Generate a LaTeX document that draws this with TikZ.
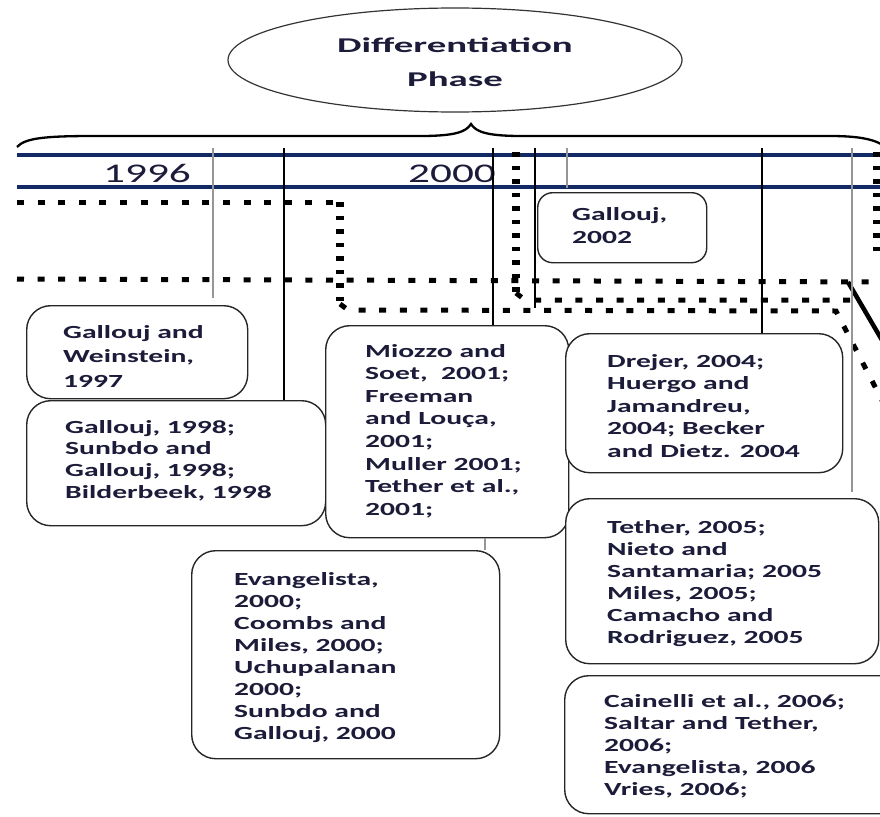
\documentclass[tikz,border=0pt]{standalone}
\usepackage{fontspec}
\setmainfont{Carlito}[FakeStretch=1.6]
\newfontfamily\headfont{Carlito}[FakeStretch=1.85]
\usetikzlibrary{shapes.geometric}
\definecolor{navy}{RGB}{18,42,100}
\definecolor{ink}{RGB}{28,28,58}
\definecolor{tickgray}{RGB}{150,150,150}
\newcommand{\boxfont}[1]{\fontsize{18.5pt}{#1}\selectfont\bfseries}

\begin{document}
\begin{tikzpicture}[x=1pt,y=-1pt,
  refbox/.style={draw=black!85, fill=white, line width=1.4pt, rounded corners=24pt,
                 inner sep=0pt, anchor=north west},
  reftext/.style={anchor=north west, inner sep=0pt, align=left, text=ink},
  tickline/.style={draw=black, line width=1.4pt},
  softtick/.style={draw=tickgray, line width=2pt},
  hdots/.style={line width=5pt, dash pattern=on 7pt off 13.6pt},
  vdots/.style={line width=8pt, dash pattern=on 4.5pt off 9pt},
  band/.style={draw=navy, line width=4.5pt},
  yearlabel/.style={anchor=base, inner sep=0pt, text=ink, font=\fontsize{27pt}{30pt}\selectfont}
]
\useasboundingbox (0,0) rectangle (880,816);
\begin{scope}
\clip (0,0) rectangle (880,816);

% ---------- title ellipse and brace ----------
\node[ellipse, draw=black!80, line width=1.2pt, minimum width=454pt, minimum height=104pt,
      inner sep=0pt] (phase) at (455,60) {};
\node[anchor=north, inner sep=0pt, align=center, text=ink,
      font=\headfont\fontsize{21pt}{34pt}\selectfont\bfseries] (phasetxt) at (455,38)
      {Differentiation\\Phase};

\draw[line width=2.3pt] (17,147) .. controls (25,138) and (45,136) .. (95,136)
  -- (420,136) .. controls (455,136) and (466,132) .. (471,124)
  .. controls (476,132) and (487,136) .. (522,136)
  -- (830,136) .. controls (862,136) and (876,140) .. (886,147);

% ---------- timeline band ----------
\coordinate (bandL1) at (17,155);  \coordinate (bandR1) at (886,155);
\coordinate (bandL2) at (17,187);  \coordinate (bandR2) at (886,187);
\draw[band] (bandL1) -- (bandR1);
\draw[band] (bandL2) -- (bandR2);
\node[yearlabel] (y1996) at (147,182) {1996};
\node[yearlabel] (y2000) at (452,182) {2000};

% ---------- dotted routes ----------
\coordinate (d1a) at (17,202);  \coordinate (d1b) at (340,202);
\coordinate (d1c) at (340,304); \coordinate (d1d) at (348,310);
\coordinate (d1e) at (836,311); \coordinate (d1f) at (886,408);
\draw[hdots] (d1a) -- (d1b);
\draw[vdots] (d1b) -- (d1c);
\draw[hdots] (d1c) -- (d1d) -- (d1e) -- (d1f);

\coordinate (d2a) at (17,279);  \coordinate (d2b) at (886,282);
\draw[hdots] (d2a) -- (d2b);

\coordinate (d3a) at (516,152); \coordinate (d3b) at (516,293);
\coordinate (d3c) at (525,300); \coordinate (d3d) at (850,300);
\draw[vdots] (d3a) -- (d3b);
\draw[hdots] (d3b) -- (d3c) -- (d3d);

\coordinate (d4a) at (877,152); \coordinate (d4b) at (877,256);
\draw[vdots] (d4a) -- (d4b);

\coordinate (s1) at (848,282); \coordinate (s2) at (886,347);
\draw[line width=4.5pt] (s1) -- (s2);

% ---------- reference boxes ----------
\node[refbox, rounded corners=15pt, minimum width=169pt, minimum height=70pt] (g2002) at (537,192) {};
\node[refbox, minimum width=221pt, minimum height=93pt]  (gw1997) at (26,305) {};
\node[refbox, minimum width=299pt, minimum height=125pt] (g1998) at (26,400) {};
\node[refbox, minimum width=243pt, minimum height=212pt] (m2001) at (325,325) {};
\node[refbox, minimum width=277pt, minimum height=139pt] (d2004) at (565,333) {};
\node[refbox, minimum width=313pt, minimum height=165pt] (t2005) at (565,498) {};
\node[refbox, minimum width=308pt, minimum height=208pt] (e2000) at (191,550) {};
\node[refbox, minimum width=340pt, minimum height=138pt] (c2006) at (564,675) {};

% ---------- year ticks ----------
\coordinate (k1) at (213,148); \coordinate (k1e) at (213,298);
\coordinate (k2) at (284,148);
\coordinate (k3) at (493,148);
\coordinate (k4) at (535,148); \coordinate (k4e) at (535,308);
\coordinate (k5) at (567,148); \coordinate (k5e) at (567,188);
\coordinate (k6) at (762,148);
\coordinate (k7) at (852,148); \coordinate (k7e) at (852,492);
\coordinate (k8) at (485,0);

\draw[softtick] (k1) -- (k1e);
\draw[tickline] (k2) -- (k2 |- g1998.north);
\draw[tickline] (k3) -- (k3 |- m2001.north);
\draw[tickline] (k4) -- (k4e);
\draw[softtick] (k5) -- (k5e);
\draw[tickline] (k6) -- (k6 |- d2004.north);
\draw[softtick] (k7) -- (k7e);
\draw[softtick] (k8 |- m2001.south) -- (k8 |- e2000.north);

% ---------- reference texts ----------
\node[reftext, font=\boxfont{23pt}] (tg2002) at (572,207) {Gallouj,\\2002};
\node[reftext, font=\boxfont{24.5pt}] (tgw1997) at (63,325) {Gallouj and\\Weinstein,\\1997};
\node[reftext, font=\boxfont{21.8pt}] (tg1998) at (65,420)
  {Gallouj, 1998;\\Sunbdo and\\Gallouj, 1998;\\Bilderbeek, 1998};
\node[reftext, font=\boxfont{22.6pt}] (tm2001) at (365,344)
  {Miozzo and\\Soet,\ \ 2001;\\Freeman\\and Louça,\\2001;\\Muller 2001;\\Tether et al.,\\2001;};
\node[reftext, font=\boxfont{22.5pt}] (td2004) at (607,354)
  {Drejer, 2004;\\Huergo and\\Jamandreu,\\2004; Becker\\and Dietz. 2004};
\node[reftext, font=\boxfont{22pt}] (tt2005) at (607,520)
  {Tether, 2005;\\Nieto and\\Santamaria; 2005\\Miles, 2005;\\Camacho and\\Rodriguez, 2005};
\node[reftext, font=\boxfont{22.1pt}] (te2000) at (234,572)
  {Evangelista,\\2000;\\Coombs and\\Miles, 2000;\\Uchupalanan\\2000;\\Sunbdo and\\Gallouj, 2000};
\node[reftext, font=\boxfont{22pt}] (tc2006) at (604,694)
  {Cainelli et al., 2006;\\Saltar and Tether,\\2006;\\Evangelista, 2006\\Vries, 2006;};
\end{scope}
\end{tikzpicture}
\end{document}
